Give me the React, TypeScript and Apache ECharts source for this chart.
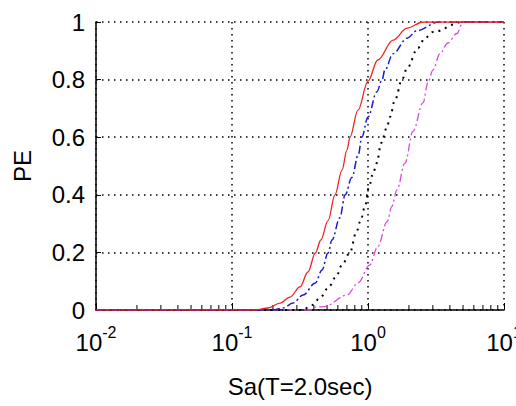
import React, { useEffect, useRef } from "react";
import * as echarts from "echarts";

// Fragility curves: probability of exceedance vs spectral acceleration
const xMin = 0.01;
const xMax = 10;
const yTicks = [0, 0.2, 0.4, 0.6, 0.8, 1];

const redCurve: [number, number][] = [
  [0.01, 0], [0.15, 0], [0.184, 0.007], [0.226, 0.024], [0.267, 0.045], [0.316, 0.08],
  [0.362, 0.132], [0.41, 0.198], [0.45, 0.243], [0.508, 0.31], [0.572, 0.4], [0.644, 0.486],
  [0.7, 0.555], [0.737, 0.6], [0.844, 0.694], [1.0, 0.795], [1.18, 0.868], [1.53, 0.937],
  [1.94, 0.979], [2.54, 1.0], [10, 1.0],
];

const blueCurve: [number, number][] = [
  [0.01, 0], [0.2, 0], [0.237, 0.007], [0.281, 0.024], [0.333, 0.052], [0.41, 0.094],
  [0.459, 0.139], [0.508, 0.198], [0.544, 0.243], [0.62, 0.32], [0.68, 0.4], [0.76, 0.46],
  [0.85, 0.54], [0.9, 0.6], [1.0, 0.67], [1.16, 0.757], [1.27, 0.8], [1.33, 0.833],
  [1.53, 0.89], [1.94, 0.944], [2.29, 0.97], [3.3, 1.0], [10, 1.0],
];

const blackCurve: [number, number][] = [
  [0.01, 0], [0.33, 0], [0.388, 0.017], [0.444, 0.042], [0.508, 0.076], [0.582, 0.115],
  [0.644, 0.156], [0.737, 0.2], [0.82, 0.27], [0.89, 0.316], [0.95, 0.36], [1.02, 0.43],
  [1.09, 0.475], [1.16, 0.51], [1.25, 0.58], [1.38, 0.635], [1.45, 0.67], [1.58, 0.73],
  [1.78, 0.8], [1.94, 0.84], [2.33, 0.91], [2.62, 0.944], [3.0, 0.965], [4.9, 1.0], [10, 1.0],
];

const magentaCurve: [number, number][] = [
  [0.01, 0], [0.38, 0], [0.41, 0.01], [0.48, 0.012], [0.7, 0.052], [0.844, 0.094],
  [1.03, 0.156], [1.18, 0.22], [1.38, 0.306], [1.5, 0.36], [1.63, 0.417], [1.87, 0.51],
  [2.14, 0.62], [2.54, 0.72], [2.76, 0.79], [3.0, 0.833], [3.38, 0.89], [3.87, 0.927],
  [4.5, 0.96], [5.0, 1.0], [10, 1.0],
];

// Minor tick positions of the log axis (2..9 within each decade)
const minorTicks: [number, number][] = [
  [0.02, 0], [0.03, 0], [0.04, 0], [0.05, 0], [0.06, 0], [0.07, 0], [0.08, 0], [0.09, 0],
  [0.2, 0], [0.3, 0], [0.4, 0], [0.5, 0], [0.6, 0], [0.7, 0], [0.8, 0], [0.9, 0],
  [2, 0], [3, 0], [4, 0], [5, 0], [6, 0], [7, 0], [8, 0], [9, 0],
];

const FONT = '"Liberation Sans", Arial, sans-serif';

export default function App() {
  const ref = useRef<HTMLDivElement>(null);

  useEffect(() => {
    if (!ref.current) return;
    const chart = echarts.init(ref.current, null, { renderer: "svg" });

    const gridDots = { color: "#000", width: 1.5, type: [1.5, 4.5] as number[] };

    const line = (data: [number, number][], color: string, type: any, width: number) => ({
      type: "line",
      data,
      showSymbol: false,
      smooth: 0.35,
      smoothMonotone: "x",
      lineStyle: { color, width, type },
      z: 3,
    });

    chart.setOption({
      animation: false,
      backgroundColor: "#fff",
      grid: { left: 96, right: 12, top: 22, bottom: 96, outerBoundsMode: "none" },
      xAxis: {
        type: "log",
        logBase: 10,
        min: xMin,
        max: xMax,
        name: "Sa(T=2.0sec)",
        nameLocation: "middle",
        nameGap: 64,
        nameTextStyle: { fontFamily: FONT, fontSize: 24, color: "#000" },
        axisLine: { show: true, lineStyle: { color: "#000", width: 1.5 } },
        axisTick: { show: true, inside: true, length: 7, lineStyle: { color: "#000", width: 1 } },
        splitLine: { show: true, lineStyle: gridDots },
        minorTick: { show: false },
        axisLabel: {
          margin: 14,
          fontFamily: FONT,
          color: "#000",
          formatter: (v: number) => `{b|10}{e|${Math.round(Math.log10(v))}}`,
          rich: {
            b: { fontFamily: FONT, fontSize: 24, color: "#000", verticalAlign: "bottom" },
            e: {
              fontFamily: FONT,
              fontSize: 16,
              color: "#000",
              verticalAlign: "bottom",
              padding: [0, 0, 14, 0],
            },
          },
        },
      },
      yAxis: {
        type: "value",
        min: 0,
        max: 1,
        interval: 0.2,
        name: "PE",
        nameLocation: "middle",
        nameGap: 62,
        nameTextStyle: { fontFamily: FONT, fontSize: 24, color: "#000" },
        axisLine: { show: true, lineStyle: { color: "#000", width: 1.5 } },
        axisTick: { show: true, inside: true, length: 5, lineStyle: { color: "#000", width: 1 } },
        splitLine: { show: true, lineStyle: gridDots },
        axisLabel: {
          margin: 11,
          fontFamily: FONT,
          fontSize: 24,
          color: "#000",
          formatter: (v: number) => {
            const r = Number(v.toFixed(1));
            return yTicks.includes(r) ? String(r) : "";
          },
        },
      },
      series: [
        {
          type: "custom",
          data: minorTicks,
          z: 1,
          silent: true,
          renderItem: (_p: any, api: any) => {
            const pt = api.coord([api.value(0), api.value(1)]);
            return {
              type: "line",
              shape: { x1: pt[0], y1: pt[1], x2: pt[0], y2: pt[1] - 5 },
              style: { stroke: "#000", lineWidth: 1 },
            };
          },
        },
        line(magentaCurve, "#d94ad9", [8, 3, 2, 3], 1.3),
        line(blackCurve, "#000", [2, 5], 2),
        line(blueCurve, "#1a1acc", [8, 3, 2, 3], 1.5),
        line(redCurve, "#ee2222", "solid", 1.3),
      ],
    });

    return () => chart.dispose();
  }, []);

  return (
    <div
      ref={ref}
      style={{ position: "fixed", left: 0, top: 0, width: 516, height: 406, background: "#fff" }}
    />
  );
}
